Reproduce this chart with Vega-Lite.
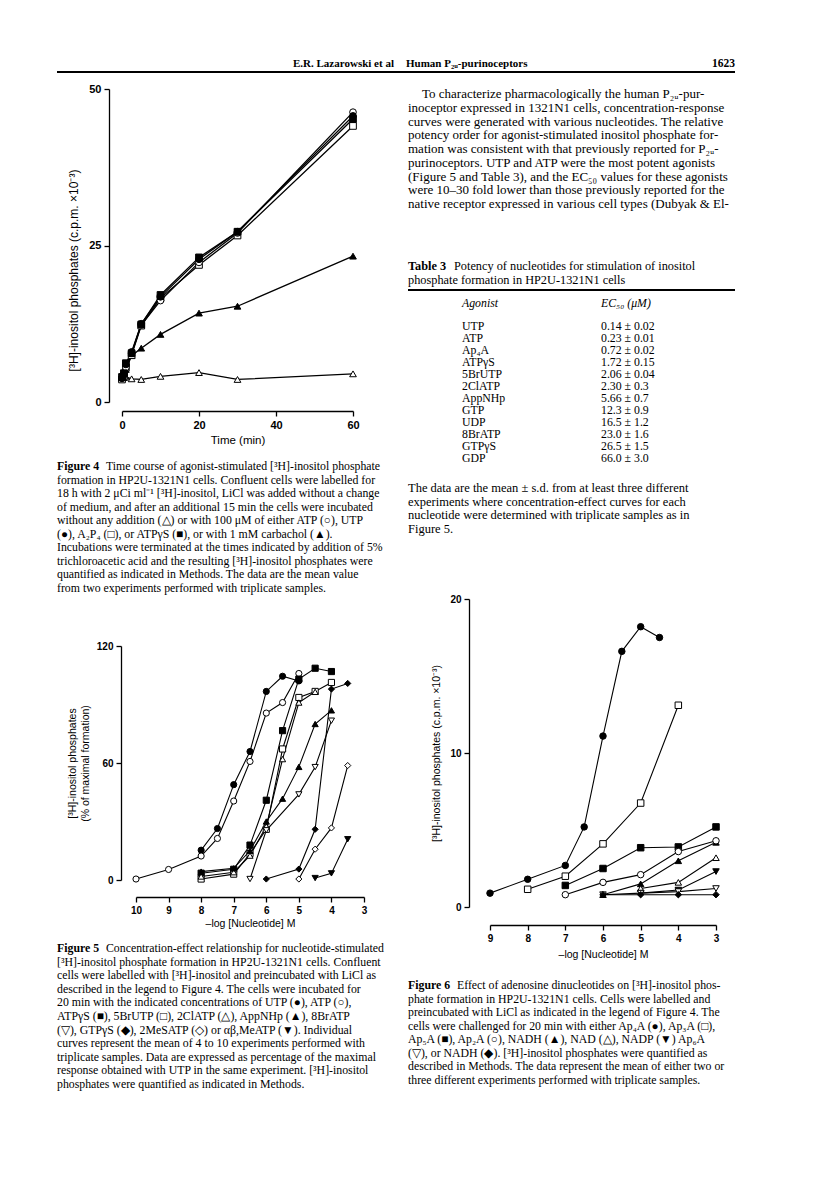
{
  "$schema": "https://vega.github.io/schema/vega-lite/v6.json",
  "width": 816,
  "height": 1181,
  "autosize": {"type": "none"},
  "padding": 0,
  "background": "white",
  "config": {
    "view": {"stroke": null},
    "axis": {
      "grid": false,
      "domainColor": "black", "domainWidth": 1.3,
      "tickColor": "black", "tickWidth": 1.3, "tickSize": 5,
      "labelFont": "Liberation Sans", "labelFontSize": 10, "labelFontWeight": "bold", "labelColor": "black",
      "labelPadding": 3, "labelFlush": false,
      "titleFont": "Liberation Sans", "titleFontSize": 10.5, "titleFontWeight": "normal", "titleColor": "black"
    },
    "text": {"color": "black"}
  },
  "datasets": {
    "header": [
      {"part": "author", "label": "E.R. Lazarowski et al"},
      {"part": "title", "label": "Human P₂ᵤ-purinoceptors"},
      {"part": "page", "label": "1623"}
    ],
    "fig4": [
      {"s": "Basal", "t": 0, "v": 3.8}, {"s": "Basal", "t": 0.5, "v": 3.9}, {"s": "Basal", "t": 1, "v": 4.0}, {"s": "Basal", "t": 2.5, "v": 3.7}, {"s": "Basal", "t": 5, "v": 3.6}, {"s": "Basal", "t": 10, "v": 4.1}, {"s": "Basal", "t": 20, "v": 4.7}, {"s": "Basal", "t": 30, "v": 3.6}, {"s": "Basal", "t": 60, "v": 4.5},
      {"s": "Carbachol", "t": 0, "v": 3.8}, {"s": "Carbachol", "t": 0.5, "v": 4.2}, {"s": "Carbachol", "t": 1, "v": 5.2}, {"s": "Carbachol", "t": 2.5, "v": 7.4}, {"s": "Carbachol", "t": 5, "v": 8.6}, {"s": "Carbachol", "t": 10, "v": 10.8}, {"s": "Carbachol", "t": 20, "v": 14.2}, {"s": "Carbachol", "t": 30, "v": 15.3}, {"s": "Carbachol", "t": 60, "v": 23.3},
      {"s": "A2P4", "t": 0, "v": 3.6}, {"s": "A2P4", "t": 0.5, "v": 4.2}, {"s": "A2P4", "t": 1, "v": 5.5}, {"s": "A2P4", "t": 2.5, "v": 7.5}, {"s": "A2P4", "t": 5, "v": 12.2}, {"s": "A2P4", "t": 10, "v": 16.6}, {"s": "A2P4", "t": 20, "v": 21.9}, {"s": "A2P4", "t": 30, "v": 26.6}, {"s": "A2P4", "t": 60, "v": 44.1},
      {"s": "ATP", "t": 0, "v": 3.8}, {"s": "ATP", "t": 0.5, "v": 4.3}, {"s": "ATP", "t": 1, "v": 5.5}, {"s": "ATP", "t": 2.5, "v": 7.8}, {"s": "ATP", "t": 5, "v": 12.3}, {"s": "ATP", "t": 10, "v": 16.2}, {"s": "ATP", "t": 20, "v": 22.3}, {"s": "ATP", "t": 30, "v": 27.0}, {"s": "ATP", "t": 60, "v": 46.3},
      {"s": "ATPγS", "t": 0, "v": 4.0}, {"s": "ATPγS", "t": 0.5, "v": 4.6}, {"s": "ATPγS", "t": 1, "v": 6.2}, {"s": "ATPγS", "t": 2.5, "v": 7.8}, {"s": "ATPγS", "t": 5, "v": 12.4}, {"s": "ATPγS", "t": 10, "v": 17.1}, {"s": "ATPγS", "t": 20, "v": 23.1}, {"s": "ATPγS", "t": 30, "v": 27.2}, {"s": "ATPγS", "t": 60, "v": 45.2},
      {"s": "UTP", "t": 0, "v": 3.8}, {"s": "UTP", "t": 0.5, "v": 4.5}, {"s": "UTP", "t": 1, "v": 6.0}, {"s": "UTP", "t": 2.5, "v": 8.0}, {"s": "UTP", "t": 5, "v": 12.5}, {"s": "UTP", "t": 10, "v": 16.8}, {"s": "UTP", "t": 20, "v": 22.8}, {"s": "UTP", "t": 30, "v": 27.2}, {"s": "UTP", "t": 60, "v": 45.7}
    ],
    "fig5": [
      {"s": "UTP", "x": 8, "v": 15.3}, {"s": "UTP", "x": 7.5, "v": 26.4}, {"s": "UTP", "x": 7, "v": 48.9}, {"s": "UTP", "x": 6.5, "v": 65.9}, {"s": "UTP", "x": 6, "v": 96.7}, {"s": "UTP", "x": 5.5, "v": 104.5}, {"s": "UTP", "x": 5, "v": 102.1},
      {"s": "ATP", "x": 10, "v": 0.5}, {"s": "ATP", "x": 9, "v": 5.4}, {"s": "ATP", "x": 8, "v": 12.3}, {"s": "ATP", "x": 7.5, "v": 21.3}, {"s": "ATP", "x": 7, "v": 40.5}, {"s": "ATP", "x": 6.5, "v": 60.8}, {"s": "ATP", "x": 6, "v": 85.6}, {"s": "ATP", "x": 5.5, "v": 91.0}, {"s": "ATP", "x": 5, "v": 105.9},
      {"s": "ATPγS", "x": 8, "v": 3.5}, {"s": "ATPγS", "x": 7, "v": 5.5}, {"s": "ATPγS", "x": 6.5, "v": 17.9}, {"s": "ATPγS", "x": 6, "v": 40.9}, {"s": "ATPγS", "x": 5.5, "v": 76.6}, {"s": "ATPγS", "x": 5, "v": 103.0}, {"s": "ATPγS", "x": 4.5, "v": 108.6}, {"s": "ATPγS", "x": 4, "v": 106.9},
      {"s": "5BrUTP", "x": 8, "v": 0.5}, {"s": "5BrUTP", "x": 7, "v": 3.0}, {"s": "5BrUTP", "x": 6.5, "v": 13.6}, {"s": "5BrUTP", "x": 6, "v": 26.0}, {"s": "5BrUTP", "x": 5.5, "v": 67.2}, {"s": "5BrUTP", "x": 5, "v": 93.6}, {"s": "5BrUTP", "x": 4.5, "v": 96.7}, {"s": "5BrUTP", "x": 4, "v": 101.3},
      {"s": "2ClATP", "x": 8, "v": 1.8}, {"s": "2ClATP", "x": 7, "v": 4.0}, {"s": "2ClATP", "x": 6.5, "v": 12.5}, {"s": "2ClATP", "x": 6, "v": 27.5}, {"s": "2ClATP", "x": 5.5, "v": 62.0}, {"s": "2ClATP", "x": 5, "v": 91.0}, {"s": "2ClATP", "x": 4.5, "v": 96.5},
      {"s": "AppNHp", "x": 8, "v": 4.3}, {"s": "AppNHp", "x": 7, "v": 6.0}, {"s": "AppNHp", "x": 6.5, "v": 15.0}, {"s": "AppNHp", "x": 6, "v": 30.0}, {"s": "AppNHp", "x": 5.5, "v": 41.7}, {"s": "AppNHp", "x": 5, "v": 58.0}, {"s": "AppNHp", "x": 4.5, "v": 80.0}, {"s": "AppNHp", "x": 4, "v": 87.0},
      {"s": "8BrATP", "x": 6.5, "v": 0.5}, {"s": "8BrATP", "x": 6, "v": 25.5}, {"s": "8BrATP", "x": 5, "v": 43.9}, {"s": "8BrATP", "x": 4.5, "v": 57.9}, {"s": "8BrATP", "x": 4, "v": 81.7},
      {"s": "GTPγS", "x": 6, "v": 0.5}, {"s": "GTPγS", "x": 5, "v": 5.6}, {"s": "GTPγS", "x": 4.5, "v": 26.0}, {"s": "GTPγS", "x": 4, "v": 97.9}, {"s": "GTPγS", "x": 3.5, "v": 100.8},
      {"s": "2MeSATP", "x": 5, "v": 0.5}, {"s": "2MeSATP", "x": 4.5, "v": 15.8}, {"s": "2MeSATP", "x": 4, "v": 26.7}, {"s": "2MeSATP", "x": 3.5, "v": 58.7},
      {"s": "αβ,MeATP", "x": 4.5, "v": 1.0}, {"s": "αβ,MeATP", "x": 4, "v": 3.4}, {"s": "αβ,MeATP", "x": 3.5, "v": 20.9}
    ],
    "fig6": [
      {"s": "Ap4A", "x": 9, "v": 0.9}, {"s": "Ap4A", "x": 8, "v": 1.8}, {"s": "Ap4A", "x": 7, "v": 2.7}, {"s": "Ap4A", "x": 6.5, "v": 5.2}, {"s": "Ap4A", "x": 6, "v": 11.1}, {"s": "Ap4A", "x": 5.5, "v": 16.6}, {"s": "Ap4A", "x": 5, "v": 18.2}, {"s": "Ap4A", "x": 4.5, "v": 17.5},
      {"s": "Ap3A", "x": 8, "v": 1.15}, {"s": "Ap3A", "x": 7, "v": 2.0}, {"s": "Ap3A", "x": 6, "v": 4.1}, {"s": "Ap3A", "x": 5, "v": 6.75}, {"s": "Ap3A", "x": 4, "v": 13.1},
      {"s": "Ap5A", "x": 7, "v": 1.4}, {"s": "Ap5A", "x": 6, "v": 2.5}, {"s": "Ap5A", "x": 5, "v": 3.85}, {"s": "Ap5A", "x": 4, "v": 3.9}, {"s": "Ap5A", "x": 3, "v": 5.2},
      {"s": "NADH-t", "x": 6, "v": 0.8}, {"s": "NADH-t", "x": 5, "v": 1.5}, {"s": "NADH-t", "x": 4, "v": 3.0}, {"s": "NADH-t", "x": 3, "v": 4.2},
      {"s": "Ap2A", "x": 7, "v": 0.8}, {"s": "Ap2A", "x": 6, "v": 1.6}, {"s": "Ap2A", "x": 5, "v": 2.1}, {"s": "Ap2A", "x": 4, "v": 3.6}, {"s": "Ap2A", "x": 3, "v": 4.3},
      {"s": "NAD", "x": 5, "v": 1.2}, {"s": "NAD", "x": 4, "v": 1.6}, {"s": "NAD", "x": 3, "v": 3.2},
      {"s": "NADP", "x": 5, "v": 0.9}, {"s": "NADP", "x": 4, "v": 1.1}, {"s": "NADP", "x": 3, "v": 2.3},
      {"s": "Ap6A", "x": 6, "v": 0.8}, {"s": "Ap6A", "x": 5, "v": 0.9}, {"s": "Ap6A", "x": 4, "v": 1.0}, {"s": "Ap6A", "x": 3, "v": 1.2},
      {"s": "NADH-d", "x": 6, "v": 0.8}, {"s": "NADH-d", "x": 5, "v": 0.8}, {"s": "NADH-d", "x": 4, "v": 0.8}, {"s": "NADH-d", "x": 3, "v": 0.8}
    ],
    "cap4": [
      {"line": 1, "label": "Figure 4", "text": "Time course of agonist-stimulated [³H]-inositol phosphate"},
      {"line": 2, "text": "formation in HP2U-1321N1 cells. Confluent cells were labelled for"},
      {"line": 3, "text": "18 h with 2 μCi ml⁻¹ [³H]-inositol, LiCl was added without a change"},
      {"line": 4, "text": "of medium, and after an additional 15 min the cells were incubated"},
      {"line": 5, "text": "without any addition (△) or with 100 μM of either ATP (○), UTP"},
      {"line": 6, "text": "(●), A₂P₄ (□), or ATPγS (■), or with 1 mM carbachol (▲)."},
      {"line": 7, "text": "Incubations were terminated at the times indicated by addition of 5%"},
      {"line": 8, "text": "trichloroacetic acid and the resulting [³H]-inositol phosphates were"},
      {"line": 9, "text": "quantified as indicated in Methods. The data are the mean value"},
      {"line": 10, "text": "from two experiments performed with triplicate samples."}
    ],
    "cap5": [
      {"line": 1, "label": "Figure 5", "text": "Concentration-effect relationship for nucleotide-stimulated"},
      {"line": 2, "text": "[³H]-inositol phosphate formation in HP2U-1321N1 cells. Confluent"},
      {"line": 3, "text": "cells were labelled with [³H]-inositol and preincubated with LiCl as"},
      {"line": 4, "text": "described in the legend to Figure 4. The cells were incubated for"},
      {"line": 5, "text": "20 min with the indicated concentrations of UTP (●), ATP (○),"},
      {"line": 6, "text": "ATPγS (■), 5BrUTP (□), 2ClATP (△), AppNHp (▲), 8BrATP"},
      {"line": 7, "text": "(▽), GTPγS (◆), 2MeSATP (◇) or αβ,MeATP (▼). Individual"},
      {"line": 8, "text": "curves represent the mean of 4 to 10 experiments performed with"},
      {"line": 9, "text": "triplicate samples. Data are expressed as percentage of the maximal"},
      {"line": 10, "text": "response obtained with UTP in the same experiment. [³H]-inositol"},
      {"line": 11, "text": "phosphates were quantified as indicated in Methods."}
    ],
    "cap6": [
      {"line": 1, "label": "Figure 6", "text": "Effect of adenosine dinucleotides on [³H]-inositol phos-"},
      {"line": 2, "text": "phate formation in HP2U-1321N1 cells. Cells were labelled and"},
      {"line": 3, "text": "preincubated with LiCl as indicated in the legend of Figure 4. The"},
      {"line": 4, "text": "cells were challenged for 20 min with either Ap₄A (●), Ap₃A (□),"},
      {"line": 5, "text": "Ap₅A (■), Ap₂A (○), NADH (▲), NAD (△), NADP (▼) Ap₆A"},
      {"line": 6, "text": "(▽), or NADH (◆). [³H]-inositol phosphates were quantified as"},
      {"line": 7, "text": "described in Methods. The data represent the mean of either two or"},
      {"line": 8, "text": "three different experiments performed with triplicate samples."}
    ],
    "para": [
      {"line": 1, "text": "To characterize pharmacologically the human P₂ᵤ-pur-"},
      {"line": 2, "text": "inoceptor expressed in 1321N1 cells, concentration-response"},
      {"line": 3, "text": "curves were generated with various nucleotides. The relative"},
      {"line": 4, "text": "potency order for agonist-stimulated inositol phosphate for-"},
      {"line": 5, "text": "mation was consistent with that previously reported for P₂ᵤ-"},
      {"line": 6, "text": "purinoceptors. UTP and ATP were the most potent agonists"},
      {"line": 7, "text": "(Figure 5 and Table 3), and the EC₅₀ values for these agonists"},
      {"line": 8, "text": "were 10–30 fold lower than those previously reported for the"},
      {"line": 9, "text": "native receptor expressed in various cell types (Dubyak & El-"}
    ],
    "tabletitle": [
      {"line": 1, "label": "Table 3", "text": "Potency of nucleotides for stimulation of inositol"},
      {"line": 2, "text": "phosphate formation in HP2U-1321N1 cells"}
    ],
    "tablehead": [
      {"agonist": "Agonist", "ec50": "EC₅₀ (μM)"}
    ],
    "table3": [
      {"rank": 1, "agonist": "UTP", "ec50": "0.14 ± 0.02"},
      {"rank": 2, "agonist": "ATP", "ec50": "0.23 ± 0.01"},
      {"rank": 3, "agonist": "Ap₄A", "ec50": "0.72 ± 0.02"},
      {"rank": 4, "agonist": "ATPγS", "ec50": "1.72 ± 0.15"},
      {"rank": 5, "agonist": "5BrUTP", "ec50": "2.06 ± 0.04"},
      {"rank": 6, "agonist": "2ClATP", "ec50": "2.30 ± 0.3"},
      {"rank": 7, "agonist": "AppNHp", "ec50": "5.66 ± 0.7"},
      {"rank": 8, "agonist": "GTP", "ec50": "12.3 ± 0.9"},
      {"rank": 9, "agonist": "UDP", "ec50": "16.5 ± 1.2"},
      {"rank": 10, "agonist": "8BrATP", "ec50": "23.0 ± 1.6"},
      {"rank": 11, "agonist": "GTPγS", "ec50": "26.5 ± 1.5"},
      {"rank": 12, "agonist": "GDP", "ec50": "66.0 ± 3.0"}
    ],
    "tablenote": [
      {"line": 1, "text": "The data are the mean ± s.d. from at least three different"},
      {"line": 2, "text": "experiments where concentration-effect curves for each"},
      {"line": 3, "text": "nucleotide were determined with triplicate samples as in"},
      {"line": 4, "text": "Figure 5."}
    ],
    "rules": [{"rule": "running head"}, {"rule": "table"}]
  },
  "resolve": {
    "scale": {"x": "independent", "y": "independent", "shape": "independent", "fill": "independent"},
    "axis": {"x": "independent", "y": "independent"}
  },
  "layer": [
    {
      "data": {"name": "header"},
      "transform": [{"filter": "datum.part === 'author'"}],
      "mark": {"type": "text", "align": "left", "baseline": "middle", "font": "Liberation Sans Narrow", "fontWeight": "bold", "fontSize": 11},
      "encoding": {
        "x": {"datum": 0, "type": "quantitative", "scale": {"domain": [0, 1], "range": [293, 400], "nice": false}, "axis": null},
        "y": {"datum": 0, "type": "quantitative", "scale": {"domain": [0, 1], "range": [64, 70], "nice": false}, "axis": null},
        "text": {"field": "label"}
      }
    },
    {
      "data": {"name": "header"},
      "transform": [{"filter": "datum.part === 'title'"}],
      "mark": {"type": "text", "align": "left", "baseline": "middle", "font": "Liberation Sans Narrow", "fontWeight": "bold", "fontSize": 11},
      "encoding": {
        "x": {"datum": 0, "type": "quantitative", "scale": {"domain": [0, 1], "range": [406, 530], "nice": false}, "axis": null},
        "y": {"datum": 0, "type": "quantitative", "scale": {"domain": [0, 1], "range": [64, 70], "nice": false}, "axis": null},
        "text": {"field": "label"}
      }
    },
    {
      "data": {"name": "header"},
      "transform": [{"filter": "datum.part === 'page'"}],
      "mark": {"type": "text", "align": "right", "baseline": "middle", "font": "Liberation Sans Narrow", "fontWeight": "bold", "fontSize": 11.5},
      "encoding": {
        "x": {"datum": 1, "type": "quantitative", "scale": {"domain": [0, 1], "range": [700, 735], "nice": false}, "axis": null},
        "y": {"datum": 0, "type": "quantitative", "scale": {"domain": [0, 1], "range": [64, 70], "nice": false}, "axis": null},
        "text": {"field": "label"}
      }
    },
    {
      "data": {"name": "rules"},
      "transform": [{"filter": "datum.rule === 'running head'"}],
      "mark": {"type": "rule", "color": "black", "strokeWidth": 1.8},
      "encoding": {
        "x": {"datum": 0, "type": "quantitative", "scale": {"domain": [0, 1], "range": [57, 735], "nice": false}, "axis": null},
        "x2": {"datum": 1},
        "y": {"datum": 0, "type": "quantitative", "scale": {"domain": [0, 1], "range": [72, 80], "nice": false}, "axis": null}
      }
    },
    {
      "data": {"name": "fig4"},
      "encoding": {
        "x": {"field": "t", "type": "quantitative", "scale": {"domain": [0, 60], "range": [122, 353], "nice": false, "zero": false},
              "axis": {"orient": "bottom", "offset": -770, "values": [0, 20, 40, 60], "format": "d", "title": "Time (min)", "titlePadding": 4, "labelFontSize": 11, "titleFontSize": 11.5}},
        "y": {"field": "v", "type": "quantitative", "scale": {"domain": [0, 50], "range": [402, 89], "nice": false, "zero": false},
              "axis": {"orient": "left", "offset": -109, "values": [0, 25, 50], "format": "d", "title": "[³H]-inositol phosphates (c.p.m. ×10⁻³)", "titlePadding": 8, "labelFontSize": 11, "titleFontSize": 12, "titleY": 270}}
      },
      "layer": [
        {"mark": {"type": "line", "color": "black", "strokeWidth": 1.3}, "encoding": {"detail": {"field": "s"}}},
        {"mark": {"type": "point", "filled": true, "stroke": "black", "strokeWidth": 1, "size": 45, "opacity": 1},
         "encoding": {
           "shape": {"field": "s", "type": "nominal", "scale": {"domain": ["Basal", "ATP", "UTP", "A2P4", "ATPγS", "Carbachol"], "range": ["triangle-up", "circle", "circle", "square", "square", "triangle-up"]}, "legend": null},
           "fill": {"field": "s", "type": "nominal", "scale": {"domain": ["Basal", "ATP", "UTP", "A2P4", "ATPγS", "Carbachol"], "range": ["white", "white", "black", "white", "black", "black"]}, "legend": null}
         }}
      ]
    },
    {
      "data": {"name": "cap4"},
      "encoding": {
        "x": {"datum": 0, "type": "quantitative", "scale": {"domain": [0, 1], "range": [57, 393], "nice": false}, "axis": null},
        "y": {"field": "line", "type": "quantitative", "scale": {"domain": [1, 10], "range": [466, 588], "nice": false, "zero": false}, "axis": null}
      },
      "layer": [
        {"transform": [{"filter": "datum.line > 1"}], "mark": {"type": "text", "align": "left", "baseline": "middle", "font": "Liberation Serif", "fontSize": 11.8}, "encoding": {"text": {"field": "text"}}},
        {"transform": [{"filter": "datum.line === 1"}], "mark": {"type": "text", "align": "left", "baseline": "middle", "dx": 49, "font": "Liberation Serif", "fontSize": 11.8}, "encoding": {"text": {"field": "text"}}},
        {"transform": [{"filter": "isValid(datum.label)"}], "mark": {"type": "text", "align": "left", "baseline": "middle", "font": "Liberation Serif", "fontWeight": "bold", "fontSize": 11.8}, "encoding": {"text": {"field": "label"}}}
      ]
    },
    {
      "data": {"name": "fig5"},
      "encoding": {
        "x": {"field": "x", "type": "quantitative", "scale": {"domain": [3, 10], "range": [364, 136], "nice": false, "zero": false},
              "axis": {"orient": "bottom", "offset": -284, "values": [10, 9, 8, 7, 6, 5, 4, 3], "format": "d", "title": "–log [Nucleotide] M", "titlePadding": 3}},
        "y": {"field": "v", "type": "quantitative", "scale": {"domain": [0, 120], "range": [880, 646], "nice": false, "zero": false},
              "axis": {"orient": "left", "offset": -121, "values": [0, 60, 120], "format": "d", "title": ["[³H]-inositol phosphates", "(% of maximal formation)"], "titlePadding": 6}}
      },
      "layer": [
        {"mark": {"type": "line", "color": "black", "strokeWidth": 1.1}, "encoding": {"detail": {"field": "s"}}},
        {"mark": {"type": "point", "filled": true, "stroke": "black", "strokeWidth": 1, "size": 38, "opacity": 1},
         "encoding": {
           "shape": {"field": "s", "type": "nominal", "scale": {"domain": ["UTP", "ATP", "ATPγS", "5BrUTP", "2ClATP", "AppNHp", "8BrATP", "GTPγS", "2MeSATP", "αβ,MeATP"], "range": ["circle", "circle", "square", "square", "triangle-up", "triangle-up", "triangle-down", "diamond", "diamond", "triangle-down"]}, "legend": null},
           "fill": {"field": "s", "type": "nominal", "scale": {"domain": ["UTP", "ATP", "ATPγS", "5BrUTP", "2ClATP", "AppNHp", "8BrATP", "GTPγS", "2MeSATP", "αβ,MeATP"], "range": ["black", "white", "black", "white", "white", "black", "white", "black", "white", "black"]}, "legend": null}
         }}
      ]
    },
    {
      "data": {"name": "cap5"},
      "encoding": {
        "x": {"datum": 0, "type": "quantitative", "scale": {"domain": [0, 1], "range": [57, 393], "nice": false}, "axis": null},
        "y": {"field": "line", "type": "quantitative", "scale": {"domain": [1, 11], "range": [948, 1084], "nice": false, "zero": false}, "axis": null}
      },
      "layer": [
        {"transform": [{"filter": "datum.line > 1"}], "mark": {"type": "text", "align": "left", "baseline": "middle", "font": "Liberation Serif", "fontSize": 11.8}, "encoding": {"text": {"field": "text"}}},
        {"transform": [{"filter": "datum.line === 1"}], "mark": {"type": "text", "align": "left", "baseline": "middle", "dx": 49, "font": "Liberation Serif", "fontSize": 11.8}, "encoding": {"text": {"field": "text"}}},
        {"transform": [{"filter": "isValid(datum.label)"}], "mark": {"type": "text", "align": "left", "baseline": "middle", "font": "Liberation Serif", "fontWeight": "bold", "fontSize": 11.8}, "encoding": {"text": {"field": "label"}}}
      ]
    },
    {
      "data": {"name": "para"},
      "encoding": {
        "x": {"datum": 0, "type": "quantitative", "scale": {"domain": [0, 1], "range": [408, 735], "nice": false}, "axis": null},
        "y": {"field": "line", "type": "quantitative", "scale": {"domain": [1, 9], "range": [94, 204], "nice": false, "zero": false}, "axis": null},
        "text": {"field": "text"}
      },
      "layer": [
        {"transform": [{"filter": "datum.line > 1"}], "mark": {"type": "text", "align": "left", "baseline": "middle", "font": "Liberation Serif", "fontSize": 13}},
        {"transform": [{"filter": "datum.line === 1"}], "mark": {"type": "text", "align": "left", "baseline": "middle", "dx": 14, "font": "Liberation Serif", "fontSize": 13}}
      ]
    },
    {
      "data": {"name": "tabletitle"},
      "encoding": {
        "x": {"datum": 0, "type": "quantitative", "scale": {"domain": [0, 1], "range": [408, 735], "nice": false}, "axis": null},
        "y": {"field": "line", "type": "quantitative", "scale": {"domain": [1, 2], "range": [266, 280], "nice": false, "zero": false}, "axis": null}
      },
      "layer": [
        {"transform": [{"filter": "datum.line > 1"}], "mark": {"type": "text", "align": "left", "baseline": "middle", "font": "Liberation Serif", "fontSize": 12.3}, "encoding": {"text": {"field": "text"}}},
        {"transform": [{"filter": "datum.line === 1"}], "mark": {"type": "text", "align": "left", "baseline": "middle", "dx": 46, "font": "Liberation Serif", "fontSize": 12.3}, "encoding": {"text": {"field": "text"}}},
        {"transform": [{"filter": "isValid(datum.label)"}], "mark": {"type": "text", "align": "left", "baseline": "middle", "font": "Liberation Serif", "fontWeight": "bold", "fontSize": 12.3}, "encoding": {"text": {"field": "label"}}}
      ]
    },
    {
      "data": {"name": "rules"},
      "transform": [{"filter": "datum.rule === 'table'"}],
      "mark": {"type": "rule", "color": "black", "strokeWidth": 1.8},
      "encoding": {
        "x": {"datum": 0, "type": "quantitative", "scale": {"domain": [0, 1], "range": [408, 735], "nice": false}, "axis": null},
        "x2": {"datum": 1},
        "y": {"datum": 0, "type": "quantitative", "scale": {"domain": [0, 1], "range": [290, 300], "nice": false}, "axis": null}
      }
    },
    {
      "data": {"name": "tablehead"},
      "transform": [{"fold": ["agonist", "ec50"], "as": ["col", "val"]}],
      "mark": {"type": "text", "align": "left", "baseline": "middle", "font": "Liberation Serif", "fontSize": 11.8, "fontStyle": "italic"},
      "encoding": {
        "x": {"field": "col", "type": "nominal", "scale": {"type": "point", "domain": ["agonist", "ec50"], "range": [462, 601], "padding": 0}, "axis": null},
        "y": {"datum": 0, "type": "quantitative", "scale": {"domain": [0, 1], "range": [303, 310], "nice": false}, "axis": null},
        "text": {"field": "val"}
      }
    },
    {
      "data": {"name": "table3"},
      "transform": [{"fold": ["agonist", "ec50"], "as": ["col", "val"]}],
      "mark": {"type": "text", "align": "left", "baseline": "middle", "font": "Liberation Serif", "fontSize": 11.8},
      "encoding": {
        "x": {"field": "col", "type": "nominal", "scale": {"type": "point", "domain": ["agonist", "ec50"], "range": [462, 601], "padding": 0}, "axis": null},
        "y": {"field": "rank", "type": "quantitative", "scale": {"domain": [1, 12], "range": [326, 458], "nice": false, "zero": false}, "axis": null},
        "text": {"field": "val"}
      }
    },
    {
      "data": {"name": "tablenote"},
      "mark": {"type": "text", "align": "left", "baseline": "middle", "font": "Liberation Serif", "fontSize": 12.5},
      "encoding": {
        "x": {"datum": 0, "type": "quantitative", "scale": {"domain": [0, 1], "range": [408, 735], "nice": false}, "axis": null},
        "y": {"field": "line", "type": "quantitative", "scale": {"domain": [1, 4], "range": [488, 529], "nice": false, "zero": false}, "axis": null},
        "text": {"field": "text"}
      }
    },
    {
      "data": {"name": "fig6"},
      "encoding": {
        "x": {"field": "x", "type": "quantitative", "scale": {"domain": [3, 9], "range": [716, 490], "nice": false, "zero": false},
              "axis": {"orient": "bottom", "offset": -256, "values": [9, 8, 7, 6, 5, 4, 3], "format": "d", "title": "–log [Nucleotide] M", "titlePadding": 6}},
        "y": {"field": "v", "type": "quantitative", "scale": {"domain": [0, 20], "range": [907, 599], "nice": false, "zero": false},
              "axis": {"orient": "left", "offset": -469, "values": [0, 10, 20], "format": "d", "title": "[³H]-inositol phosphates (c.p.m. ×10⁻³)", "titlePadding": 8}}
      },
      "layer": [
        {"mark": {"type": "line", "color": "black", "strokeWidth": 1.1}, "encoding": {"detail": {"field": "s"}}},
        {"mark": {"type": "point", "filled": true, "stroke": "black", "strokeWidth": 1, "size": 42, "opacity": 1},
         "encoding": {
           "shape": {"field": "s", "type": "nominal", "scale": {"domain": ["Ap4A", "Ap3A", "Ap5A", "Ap2A", "NADH-t", "NAD", "NADP", "Ap6A", "NADH-d"], "range": ["circle", "square", "square", "circle", "triangle-up", "triangle-up", "triangle-down", "triangle-down", "diamond"]}, "legend": null},
           "fill": {"field": "s", "type": "nominal", "scale": {"domain": ["Ap4A", "Ap3A", "Ap5A", "Ap2A", "NADH-t", "NAD", "NADP", "Ap6A", "NADH-d"], "range": ["black", "white", "black", "white", "black", "white", "black", "white", "black"]}, "legend": null}
         }}
      ]
    },
    {
      "data": {"name": "cap6"},
      "encoding": {
        "x": {"datum": 0, "type": "quantitative", "scale": {"domain": [0, 1], "range": [408, 735], "nice": false}, "axis": null},
        "y": {"field": "line", "type": "quantitative", "scale": {"domain": [1, 8], "range": [985, 1080], "nice": false, "zero": false}, "axis": null}
      },
      "layer": [
        {"transform": [{"filter": "datum.line > 1"}], "mark": {"type": "text", "align": "left", "baseline": "middle", "font": "Liberation Serif", "fontSize": 11.8}, "encoding": {"text": {"field": "text"}}},
        {"transform": [{"filter": "datum.line === 1"}], "mark": {"type": "text", "align": "left", "baseline": "middle", "dx": 49, "font": "Liberation Serif", "fontSize": 11.8}, "encoding": {"text": {"field": "text"}}},
        {"transform": [{"filter": "isValid(datum.label)"}], "mark": {"type": "text", "align": "left", "baseline": "middle", "font": "Liberation Serif", "fontWeight": "bold", "fontSize": 11.8}, "encoding": {"text": {"field": "label"}}}
      ]
    }
  ]
}
